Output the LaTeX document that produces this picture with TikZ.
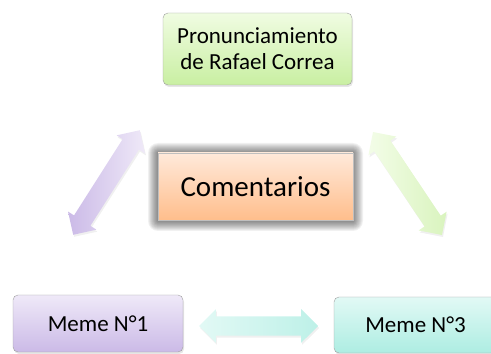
\documentclass[tikz,border=0pt]{standalone}
\usepackage{fontspec}
\setmainfont{Carlito}
\usetikzlibrary{shapes.arrows,shadows}

\definecolor{verdeA}{HTML}{F0FCE2}
\definecolor{verdeB}{HTML}{C9EFA2}
\definecolor{naranjaA}{HTML}{FFE9DA}
\definecolor{naranjaB}{HTML}{FFBE8C}
\definecolor{lilaA}{HTML}{EFE9F8}
\definecolor{lilaB}{HTML}{CBBAE7}
\definecolor{aguaA}{HTML}{E2F9F5}
\definecolor{aguaB}{HTML}{ADEDE2}

\begin{document}
\begin{tikzpicture}[x=1pt,y=1pt,
  caja/.style={draw=gray!75,rounded corners=5pt,align=center,
    font=\fontsize{23}{26}\selectfont,
    drop shadow={shadow xshift=1pt,shadow yshift=-2pt,opacity=.2}},
  flecha/.style={double arrow,inner sep=0pt,inner ysep=9.5pt,
    minimum height=#1,minimum width=32pt,
    drop shadow={shadow xshift=1pt,shadow yshift=-2pt,opacity=.12}}]
  \useasboundingbox (0,0) rectangle (491,354);
  % cajas
  \node[caja,minimum width=189pt,minimum height=72pt,
    top color=verdeA,bottom color=verdeB] (P) at (257.5,305)
    {Pronunciamiento\\de Rafael Correa};
  \foreach \d in {1,2,...,10}
    \fill[black,opacity=.055,rounded corners=\d pt] (158-\d,134-\d-1) rectangle (353+\d,201+\d);
  \node[draw=gray!50,minimum width=195pt,minimum height=67pt,
    top color=naranjaA,bottom color=naranjaB,
    font=\fontsize{29}{32}\selectfont] (C) at (255.5,167.5) {Comentarios};
  \node[caja,minimum width=170pt,minimum height=57pt,
    top color=lilaA,bottom color=lilaB] (M1) at (98,30.5) {Meme N°1};
  \node[caja,minimum width=163pt,minimum height=56pt,
    top color=aguaA,bottom color=aguaB] (M3) at (415.5,29) {Meme N°3};
  % flechas
  \node[flecha=124pt,rotate=57.5,left color=lilaB,right color=lilaA] (A1) at (106.5,171.5) {};
  \node[flecha=124pt,rotate=-56.2,left color=verdeA!80!white,right color=verdeB!70!white] (A2) at (407.5,170.5) {};
  \node[flecha=119pt,left color=aguaA,right color=aguaB!80!white] (A3) at (258.5,28) {};
\end{tikzpicture}
\end{document}
